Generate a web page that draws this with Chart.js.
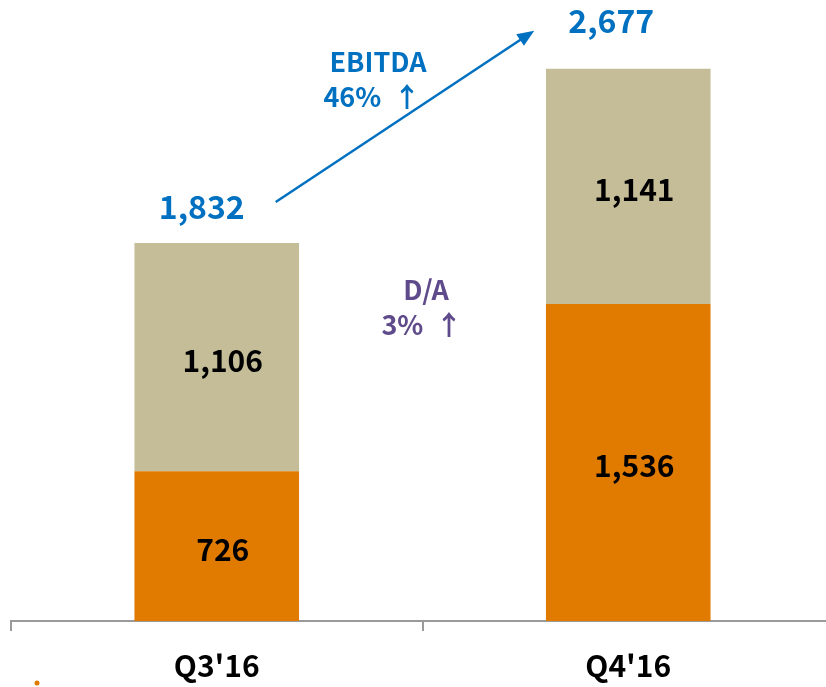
<!DOCTYPE html>
<html>
<head>
<meta charset="utf-8">
<script src="https://cdn.jsdelivr.net/npm/chart.js@4/dist/chart.umd.min.js"></script>
<style>
  html, body { margin: 0; padding: 0; background: #fff; overflow: hidden; }
  #wrap { position: relative; width: 834px; height: 687px; }
</style>
</head>
<body>
<div id="wrap"><canvas id="ebitdaChart"></canvas></div>
<script>
const quarters = ["Q3'16", "Q4'16"];
const daValues = [726, 1536];
const otherValues = [1106, 1141];
const totals = [1832, 2677];

const FONT = '"Noto Sans CJK KR", "Noto Sans", sans-serif';

function fmt(v) {
  return v.toLocaleString('en-US');
}

// 数値ラベルと矢印などの注記を描く
const notesPlugin = {
  id: 'notes',
  afterDatasetsDraw(chart) {
    const ctx = chart.ctx;
    const x = chart.scales.x;
    const y = chart.scales.y;
    ctx.save();
    ctx.textAlign = 'center';
    ctx.textBaseline = 'middle';

    // 各セグメントの値
    ctx.fillStyle = '#000';
    ctx.font = 'bold 30px ' + FONT;
    quarters.forEach((q, i) => {
      const cx = x.getPixelForValue(i) + 6;
      ctx.fillText(fmt(daValues[i]), cx, (y.getPixelForValue(0) + y.getPixelForValue(daValues[i])) / 2 + 3);
      ctx.fillText(fmt(otherValues[i]), cx, (y.getPixelForValue(daValues[i]) + y.getPixelForValue(totals[i])) / 2 + 3);
    });

    // 合計
    ctx.fillStyle = '#0070C0';
    ctx.font = 'bold 32px ' + FONT;
    const p0 = { x: x.getPixelForValue(0) - 15, y: y.getPixelForValue(totals[0]) - 36 };
    const p1 = { x: x.getPixelForValue(1) - 17, y: y.getPixelForValue(totals[1]) - 48 };
    ctx.fillText(fmt(totals[0]), p0.x, p0.y);
    ctx.fillText(fmt(totals[1]), p1.x, p1.y);

    // 矢印
    const ax0 = p0.x + 74, ay0 = p0.y - 5;
    const ax1 = p1.x - 77, ay1 = p1.y + 10;
    ctx.strokeStyle = '#0070C0';
    ctx.lineWidth = 2.5;
    const ang = Math.atan2(ay1 - ay0, ax1 - ax0);
    ctx.beginPath();
    ctx.moveTo(ax0, ay0);
    ctx.lineTo(ax1 - 12 * Math.cos(ang), ay1 - 12 * Math.sin(ang));
    ctx.stroke();
    ctx.beginPath();
    ctx.moveTo(ax1, ay1);
    ctx.lineTo(ax1 - 17 * Math.cos(ang) + 7 * Math.sin(ang), ay1 - 17 * Math.sin(ang) - 7 * Math.cos(ang));
    ctx.lineTo(ax1 - 17 * Math.cos(ang) - 7 * Math.sin(ang), ay1 - 17 * Math.sin(ang) + 7 * Math.cos(ang));
    ctx.closePath();
    ctx.fillStyle = '#0070C0';
    ctx.fill();

    // EBITDA 注記
    ctx.font = 'bold 27px ' + FONT;
    ctx.fillText('EBITDA', 378, 62);
    ctx.fillText('46%  \u2191', 372, 97);

    // D/A 注記
    ctx.fillStyle = '#5F4B8B';
    ctx.fillText('D/A', 426, 290);
    ctx.fillText('3%  \u2191', 422, 325);

    // 左下の点
    ctx.fillStyle = '#E07B00';
    ctx.beginPath();
    ctx.arc(37, 683, 2.5, 0, Math.PI * 2);
    ctx.fill();
    ctx.restore();
  }
};

document.addEventListener('DOMContentLoaded', function () {
  const ctx = document.getElementById('ebitdaChart').getContext('2d');
  new Chart(ctx, {
    type: 'bar',
    data: {
      labels: quarters,
      datasets: [
        {
          label: 'D/A',
          data: daValues,
          backgroundColor: '#E07B00',
          barPercentage: 0.4,
          categoryPercentage: 1
        },
        {
          label: 'EBITDA other',
          data: otherValues,
          backgroundColor: '#C4BD97',
          barPercentage: 0.4,
          categoryPercentage: 1
        }
      ]
    },
    options: {
      responsive: true,
      maintainAspectRatio: false,
      animation: false,
      layout: { padding: { left: 11, right: 0, top: 2, bottom: 0 } },
      plugins: {
        legend: { display: false },
        tooltip: { enabled: false }
      },
      scales: {
        x: {
          stacked: true,
          afterFit(scale) { scale.height = 66; },
          border: { display: true, color: '#9a9a9a', width: 2 },
          grid: {
            display: true,
            drawOnChartArea: false,
            drawTicks: true,
            tickLength: 10,
            color: '#9a9a9a',
            lineWidth: 2,
            offset: true
          },
          ticks: {
            color: '#000',
            font: { family: FONT, size: 30, weight: 'bold' },
            padding: 17
          }
        },
        y: {
          stacked: true,
          display: false,
          min: 0,
          max: 3000
        }
      }
    },
    plugins: [notesPlugin]
  });
});
</script>
</body>
</html>
